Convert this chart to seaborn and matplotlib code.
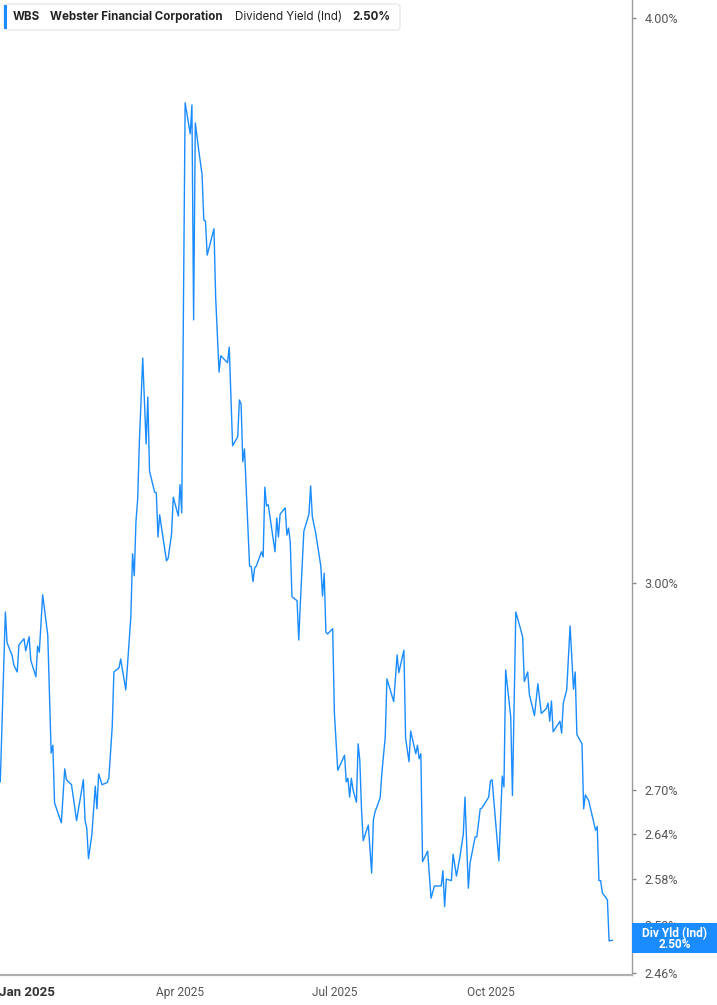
import matplotlib
matplotlib.use("Agg")
import matplotlib.pyplot as plt
from matplotlib.patches import FancyBboxPatch, Rectangle
from matplotlib.ticker import FixedLocator, FixedFormatter, NullLocator, NullFormatter
import pandas as pd
import seaborn as sns

ticker = "WBS"
company = "Webster Financial Corporation"
metric = "Dividend Yield (Ind)"
metric_short = "Div Yld (Ind)"

# days counted from 2025-01-01 (negative = Dec 2024)
days = [
    -16, -13, -12, -9, -8, -6, -5, -2, -1, 1, 2, 5, 6, 7, 9, 12, 14, 15, 16, 20,
    22, 23, 26, 29, 33, 34, 35, 36, 38, 40, 41, 42, 44, 47, 48, 50, 51, 54, 55, 58,
    59, 60, 61, 62, 63, 64, 65, 66, 68, 70, 71, 72, 75, 76, 77, 78, 79, 82, 83, 85,
    86, 89, 90, 91, 93, 96, 97, 98, 99, 101, 103, 104, 105, 106, 110, 111, 113, 114, 118, 119,
    121, 124, 125, 126, 127, 128, 131, 132, 133, 134, 135, 138, 139, 140, 141, 142, 146, 147, 148, 149,
    152, 153, 154, 155, 156, 159, 160, 161, 163, 166, 167, 168, 170, 173, 174, 175, 176, 177, 180, 181,
    183, 187, 188, 189, 190, 191, 192, 194, 195, 196, 197, 198, 201, 203, 204, 205, 208, 209, 211, 212,
    216, 218, 219, 222, 223, 225, 226, 229, 230, 231, 232, 233, 236, 238, 240, 244, 245, 246, 247, 250,
    251, 253, 255, 257, 258, 260, 261, 264, 265, 267, 268, 272, 273, 274, 278, 280, 281, 282, 285, 286,
    288, 292, 293, 295, 296, 299, 301, 303, 306, 307, 308, 309, 310, 314, 315, 316, 318, 320, 322, 323,
    324, 327, 328, 329, 331, 335, 336, 337, 338, 339, 342, 343, 345,
]

yield_pct = [
    2.711, 2.956, 2.910, 2.891, 2.877, 2.867, 2.907, 2.916, 2.898, 2.919,
    2.884, 2.860, 2.905, 2.896, 2.982, 2.921, 2.751, 2.762, 2.682, 2.655,
    2.729, 2.714, 2.707, 2.658, 2.714, 2.658, 2.648, 2.607, 2.639, 2.705,
    2.674, 2.722, 2.707, 2.710, 2.716, 2.788, 2.867, 2.873, 2.886, 2.841,
    2.877, 2.914, 2.949, 3.045, 3.011, 3.095, 3.130, 3.222, 3.364, 3.220,
    3.298, 3.176, 3.142, 3.141, 3.071, 3.106, 3.087, 3.034, 3.038, 3.076,
    3.134, 3.104, 3.154, 3.109, 3.831, 3.771, 3.827, 3.430, 3.792, 3.740,
    3.693, 3.609, 3.607, 3.545, 3.593, 3.470, 3.340, 3.368, 3.356, 3.383,
    3.217, 3.232, 3.293, 3.286, 3.191, 3.212, 3.026, 3.025, 3.002, 3.023,
    3.026, 3.048, 3.040, 3.150, 3.120, 3.122, 3.048, 3.101, 3.071, 3.107,
    3.117, 3.074, 3.085, 3.062, 2.979, 2.973, 2.914, 2.973, 3.080, 3.107,
    3.152, 3.103, 3.077, 3.026, 2.980, 3.015, 2.926, 2.923, 2.931, 2.808,
    2.727, 2.748, 2.711, 2.716, 2.690, 2.716, 2.700, 2.683, 2.764, 2.741,
    2.673, 2.631, 2.652, 2.588, 2.659, 2.670, 2.689, 2.723, 2.774, 2.857,
    2.824, 2.892, 2.866, 2.899, 2.772, 2.739, 2.782, 2.750, 2.762, 2.743,
    2.750, 2.603, 2.617, 2.555, 2.571, 2.571, 2.591, 2.544, 2.580, 2.578,
    2.613, 2.584, 2.609, 2.639, 2.690, 2.568, 2.601, 2.636, 2.636, 2.674,
    2.675, 2.690, 2.712, 2.714, 2.604, 2.719, 2.704, 2.870, 2.802, 2.692,
    2.956, 2.919, 2.853, 2.867, 2.834, 2.804, 2.850, 2.807, 2.814, 2.822,
    2.796, 2.825, 2.781, 2.796, 2.779, 2.822, 2.841, 2.935, 2.842, 2.867,
    2.777, 2.764, 2.674, 2.693, 2.685, 2.645, 2.650, 2.578, 2.578, 2.562,
    2.553, 2.500, 2.501,
]

y_ticks = [2.46, 2.52, 2.58, 2.64, 2.70, 3.00, 4.00]
x_ticks = ["2025-01-01", "2025-04-01", "2025-07-01", "2025-10-01"]
x_tick_labels = ["Jan 2025", "Apr 2025", "Jul 2025", "Oct 2025"]

blue = "#1a8cff"

df = pd.DataFrame({
    "date": pd.Timestamp("2025-01-01") + pd.to_timedelta(days, unit="D"),
    "yield": yield_pct,
})

sns.set_style("white")
plt.rcParams["font.family"] = ["Roboto", "DejaVu Sans"]

W, H = 717, 1005
fig = plt.figure(figsize=(W / 100, H / 100), dpi=100)
ax = fig.add_axes([0, 30 / H, 632 / W, 975 / H])

sns.lineplot(data=df, x="date", y="yield", color=blue, lw=1.0, ax=ax)

ax.set_yscale("log")
ax.set_ylim(2.457, 4.037)
ax.set_xlim(pd.Timestamp("2024-12-15 20:00"), pd.Timestamp("2025-12-23 12:00"))
ax.set_xlabel("")
ax.set_ylabel("")

# right hand y axis
ax.yaxis.tick_right()
ax.yaxis.set_major_locator(FixedLocator(y_ticks))
ax.yaxis.set_major_formatter(FixedFormatter([f"{v:.2f}%" for v in y_ticks]))
ax.yaxis.set_minor_locator(NullLocator())
ax.yaxis.set_minor_formatter(NullFormatter())
ax.tick_params(axis="y", which="major", direction="out", length=3, width=1,
               color="#888888", pad=6, labelsize=9, labelcolor="#555555")

ax.set_xticks(pd.to_datetime(x_ticks))
ax.set_xticklabels(x_tick_labels)
ax.tick_params(axis="x", direction="out", length=3, width=1, color="#999999",
               pad=5, labelsize=8.6, labelcolor="#555555")
first = ax.get_xticklabels()[0]
first.set_fontweight("bold")
first.set_color("#333333")
first.set_fontsize(9.5)

for side in ["top", "left"]:
    ax.spines[side].set_visible(False)
ax.spines["bottom"].set_color("#b0b0b0")
ax.spines["bottom"].set_linewidth(1.6)
ax.spines["right"].set_color("#9a9a9a")
ax.spines["right"].set_linewidth(1.0)

# header box
inch = fig.dpi_scale_trans
fig.patches.append(FancyBboxPatch((0.04, (H - 30) / 100), 3.96, 0.26,
                                  boxstyle="round,pad=0,rounding_size=0.03",
                                  transform=inch, facecolor="white",
                                  edgecolor="#e2e2e2", lw=0.8, zorder=2))
fig.patches.append(Rectangle((0.04, (H - 29) / 100), 0.03, 0.24,
                             transform=inch, facecolor=blue, edgecolor="none", zorder=3))
hy = (H - 17) / 100
hfont = ["Inter", "DejaVu Sans"]
hsize = 8.3
fig.text(0.13, hy, ticker, transform=inch, va="center", ha="left", fontsize=hsize,
         fontweight="bold", color="#222222", family=hfont)
fig.text(0.50, hy, company, transform=inch, va="center", ha="left", fontsize=hsize,
         fontweight="bold", color="#222222", family=hfont)
fig.text(2.35, hy, metric, transform=inch, va="center", ha="left", fontsize=hsize,
         color="#222222", family=hfont)
fig.text(3.52, hy, f"{yield_pct[-1]:.2f}%", transform=inch, va="center", ha="left",
         fontsize=hsize, fontweight="bold", color="#222222", family=hfont)

# last value tag on the right axis
disp = ax.transData.transform((ax.get_xlim()[1], yield_pct[-1]))
y_in = inch.inverted().transform(disp)[1]
fig.patches.append(Rectangle((6.32, y_in - 0.13), 0.85, 0.30, transform=inch,
                             facecolor=blue, edgecolor="none", zorder=5))
fig.text(6.75, y_in + 0.07, metric_short, transform=inch, ha="center", va="center",
         fontsize=8.6, fontweight="bold", color="white", zorder=6)
fig.text(6.75, y_in - 0.04, f"{yield_pct[-1]:.2f}%", transform=inch, ha="center",
         va="center", fontsize=8.6, fontweight="bold", color="white", zorder=6)

fig.savefig("out.png", dpi=100)
